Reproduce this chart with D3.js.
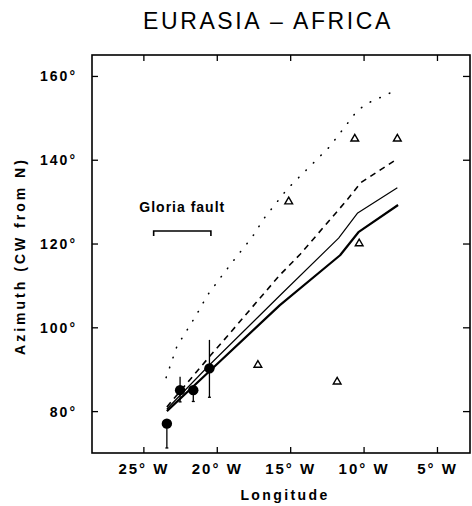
<!DOCTYPE html>
<html>
<head>
<meta charset="utf-8">
<script src="https://cdn.jsdelivr.net/npm/d3@7"></script>
<style>
  body { margin: 0; background: #fff; }
  text { font-family: "Liberation Sans", Arial, sans-serif; fill: #000; }
</style>
</head>
<body>
<div id="chart"></div>
<script>
// ---- data ----
const xTicks = [-25, -20, -15, -10, -5];
const yTicks = [80, 100, 120, 140, 160];

// observed azimuths with error bars (filled circles)
const obsLon = [-23.4, -22.5, -21.6, -20.5];
const obsAz  = [77, 85, 85, 90.2];
const obsLo  = [71.2, 82.2, 82.3, 83.3];
const obsHi  = [77, 88.2, 85, 97];

// open triangles
const triLon = [-17.2, -15.1, -11.8, -10.6, -10.3, -7.7];
const triAz  = [91, 130, 87, 145, 120, 145];

// model predictions
const dotLon = [-23.45, -22.69, -22.24, -21.33, -20.65, -19.63, -18.6, -17.59, -16.8, -15.2, -13.6, -12.37, -11.35, -10.44, -9.65, -8.4, -7.72];
const dotAz  = [88, 95.7, 98.1, 103.3, 107.6, 112.4, 117.1, 121.5, 125.9, 133, 138.6, 142.9, 147.5, 151.7, 153.6, 155.6, 156.7];

const dashLon = [-23.4, -20.5, -19.5, -15.7, -14.3, -11.1, -10.2, -7.7];
const dashAz  = [81, 93, 97, 112.5, 117.5, 130.5, 134.5, 140.2];

const thinLon = [-23.4, -20.5, -15.7, -11.7, -10.4, -7.7];
const thinAz  = [80.5, 91, 107.6, 121.3, 127.3, 133.3];

const thickLon = [-23.4, -20.5, -15.7, -11.6, -10.35, -7.65];
const thickAz  = [80, 89.5, 105.3, 117.2, 122.7, 129.2];

const gloriaSpan = [-24.3, -20.4];
const gloriaAz = 123;

// ---- layout ----
let svgWidth = 472;
let svgHeight = 506;
let margin = { top: 55, right: 2, bottom: 53, left: 92 };
let width = svgWidth - margin.left - margin.right;
let height = svgHeight - margin.top - margin.bottom;

let svg = d3.select("#chart")
  .append("svg")
  .attr("width", svgWidth)
  .attr("height", svgHeight);

let g = svg.append("g")
  .attr("transform", `translate(${margin.left}, ${margin.top})`);

let x = d3.scaleLinear().domain([-28.5, -2.75]).range([0, width]);
let y = d3.scaleLinear().domain([70, 165]).range([height, 0]);

// title
svg.append("text")
  .attr("x", 268)
  .attr("y", 29)
  .attr("text-anchor", "middle")
  .attr("font-size", 23)
  .attr("letter-spacing", 2.6)
  .text("EURASIA \u2013 AFRICA");

// axes (ticks point inward)
let fmtX = d => `${Math.abs(d)}\u00b0 W`;
let axBottom = g.append("g")
  .attr("transform", `translate(0, ${height})`)
  .call(d3.axisBottom(x).tickValues(xTicks).tickSizeInner(-6).tickSizeOuter(0).tickPadding(10).tickFormat(fmtX));
let axTop = g.append("g")
  .call(d3.axisTop(x).tickValues(xTicks).tickSizeInner(-6).tickSizeOuter(0).tickFormat(""));
let axLeft = g.append("g")
  .call(d3.axisLeft(y).tickValues(yTicks).tickSizeInner(-6).tickSizeOuter(0).tickPadding(15).tickFormat(d => d + "\u00b0"));
let axRight = g.append("g")
  .attr("transform", `translate(${width}, 0)`)
  .call(d3.axisRight(y).tickValues(yTicks).tickSizeInner(-7).tickSizeOuter(0).tickFormat(""));

[axBottom, axTop, axLeft, axRight].forEach(a => {
  a.select(".domain").remove();
  a.selectAll(".tick line").attr("stroke", "#000").attr("stroke-width", 1.3);
});
axBottom.selectAll("text")
  .attr("font-size", 15).attr("font-weight", "bold").attr("letter-spacing", 2).attr("fill", "#000");
axLeft.selectAll("text")
  .attr("font-size", 14).attr("font-weight", "bold").attr("letter-spacing", 2).attr("fill", "#000")
  .attr("dy", "0.36em");

// frame
g.append("rect")
  .attr("width", width)
  .attr("height", height)
  .attr("fill", "none")
  .attr("stroke", "#000")
  .attr("stroke-width", 1.6);

// axis titles
svg.append("text")
  .attr("x", 285)
  .attr("y", 500)
  .attr("text-anchor", "middle")
  .attr("font-size", 14)
  .attr("font-weight", "bold")
  .attr("letter-spacing", 2.4)
  .text("Longitude");

svg.append("text")
  .attr("transform", "translate(25, 256) rotate(-90)")
  .attr("text-anchor", "middle")
  .attr("font-size", 14)
  .attr("font-weight", "bold")
  .attr("letter-spacing", 3)
  .text("Azimuth (CW from N)");

// model curves
let line = d3.line().x(d => x(d[0])).y(d => y(d[1]));
let zip = (a, b) => a.map((v, i) => [v, b[i]]);

g.append("path").datum(zip(dotLon, dotAz))
  .attr("d", line).attr("fill", "none").attr("stroke", "#000")
  .attr("stroke-width", 1.6).attr("stroke-linecap", "round").attr("stroke-dasharray", "0.5,10");
g.append("path").datum(zip(dashLon, dashAz))
  .attr("d", line).attr("fill", "none").attr("stroke", "#000")
  .attr("stroke-width", 1.6).attr("stroke-dasharray", "6,5");
g.append("path").datum(zip(thinLon, thinAz))
  .attr("d", line).attr("fill", "none").attr("stroke", "#000")
  .attr("stroke-width", 1.2).attr("stroke-linejoin", "round");
g.append("path").datum(zip(thickLon, thickAz))
  .attr("d", line).attr("fill", "none").attr("stroke", "#000")
  .attr("stroke-width", 2.2).attr("stroke-linejoin", "round");

// error bars + filled circles
obsLon.forEach((lon, i) => {
  g.append("line")
    .attr("x1", x(lon)).attr("x2", x(lon))
    .attr("y1", y(obsLo[i])).attr("y2", y(obsHi[i]))
    .attr("stroke", "#000").attr("stroke-width", 1.3);
  g.append("line")
    .attr("x1", x(lon) - 1.5).attr("x2", x(lon) + 1.5)
    .attr("y1", y(obsLo[i])).attr("y2", y(obsLo[i]))
    .attr("stroke", "#000").attr("stroke-width", 1.3);
});
g.selectAll(".obs")
  .data(obsLon)
  .enter()
  .append("circle")
    .attr("cx", d => x(d))
    .attr("cy", (d, i) => y(obsAz[i]))
    .attr("r", 5.2)
    .attr("fill", "#000");

// open triangles
g.selectAll(".tri")
  .data(triLon)
  .enter()
  .append("path")
    .attr("d", d3.symbol().type(d3.symbolTriangle).size(26))
    .attr("transform", (d, i) => `translate(${x(d)}, ${y(triAz[i])})`)
    .attr("fill", "#fff")
    .attr("stroke", "#000")
    .attr("stroke-width", 1.4);

// Gloria fault bracket
let bx0 = x(gloriaSpan[0]), bx1 = x(gloriaSpan[1]), by = y(gloriaAz);
g.append("path")
  .attr("d", `M${bx0},${by + 5}V${by}H${bx1}V${by + 5}`)
  .attr("fill", "none")
  .attr("stroke", "#000")
  .attr("stroke-width", 1.6);
g.append("text")
  .attr("x", (bx0 + bx1) / 2)
  .attr("y", by - 19)
  .attr("text-anchor", "middle")
  .attr("font-size", 14)
  .attr("font-weight", "bold")
  .attr("letter-spacing", 1)
  .text("Gloria fault");
</script>
</body>
</html>
